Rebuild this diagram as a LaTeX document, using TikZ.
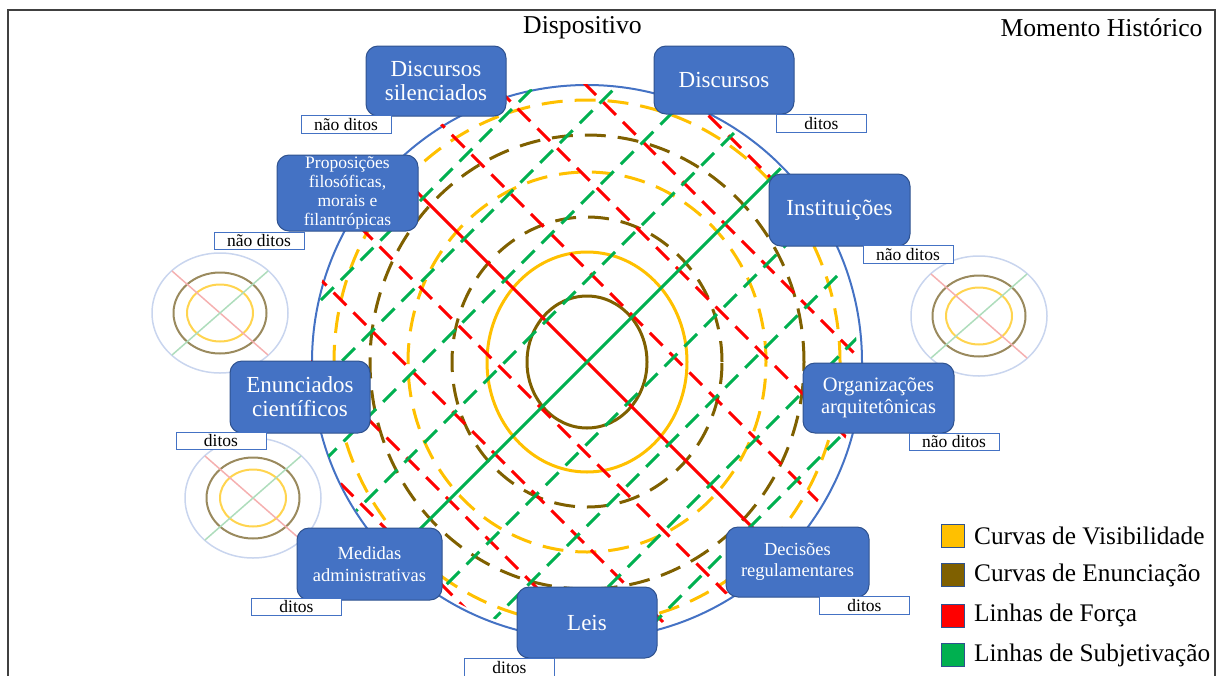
\documentclass[tikz,border=0pt]{standalone}
\usepackage{fontspec}
\setmainfont{Liberation Serif}
\definecolor{boxblue}{HTML}{4472C4}
\definecolor{boxedge}{HTML}{2F528F}
\definecolor{visy}{HTML}{FFC000}
\definecolor{enunb}{HTML}{7F6000}
\definecolor{forcer}{HTML}{FF0000}
\definecolor{subjg}{HTML}{00B050}
\definecolor{framec}{HTML}{404040}
\definecolor{icoblue}{HTML}{C9D5EE}
\definecolor{icobrown}{HTML}{9A8A5E}
\definecolor{icoyellow}{HTML}{FFD44F}
\definecolor{icored}{HTML}{F5B0B0}
\definecolor{icogreen}{HTML}{AEDDBC}
\tikzset{
  bluebox/.style={rectangle, rounded corners=12pt, fill=boxblue, draw=boxedge, line width=1pt, text=white, align=center, inner sep=0pt},
  bigtxt/.style={font=\fontsize{23}{24}\selectfont},
  tagbox/.style={rectangle, draw=boxblue, line width=1pt, fill=white, inner sep=0pt, text=black, font=\fontsize{17.5}{18}\selectfont, minimum height=17.5pt, minimum width=90pt},
  ringdash/.style={line width=3pt, dash pattern=on 21pt off 12pt},
  linedash/.style={line width=3pt, dash pattern=on 18pt off 10pt},
  legsq/.style={rectangle, draw=boxedge, line width=1pt, minimum size=23pt, inner sep=0pt},
  legtxt/.style={anchor=west, inner sep=0pt, font=\fontsize{25.3}{27}\selectfont},
  toptxt/.style={inner sep=0pt, font=\fontsize{25.7}{27}\selectfont},
  miniicon/.pic={
    \draw[icoblue, line width=1.5pt] (0,0) ellipse [x radius=68pt, y radius=60pt];
    \draw[icobrown, line width=2pt] (0,0) ellipse [x radius=46.5pt, y radius=40.5pt];
    \draw[icoyellow, line width=2pt] (0,0) ellipse [x radius=33pt, y radius=28.5pt];
    \draw[icored, line width=1.5pt] (-48,-42) -- (48,42);
    \draw[icogreen, line width=1.5pt] (-48,42) -- (48,-42);
  }
}
\begin{document}
\begin{tikzpicture}[x=1pt, y=-1pt]
\useasboundingbox (0,0) rectangle (1224,675);
% frame
\draw[framec, line width=1.5pt] (8,676) -- (8,10) -- (1215,10) -- (1215,676);
% titles
\node[toptxt] (tdisp) at (582.5,28) {Dispositivo};
\node[toptxt] (tmom) at (1101.5,28) {Momento Histórico};
% small icons
\pic at (220,313) {miniicon};
\pic at (253,498) {miniicon};
\pic at (979,316) {miniicon};
% big circle
\draw[boxblue, line width=2pt] (587,362) ellipse [x radius=275pt, y radius=277pt];
% rings
\draw[visy, ringdash] (587,362) ellipse [x radius=253pt, y radius=262pt];
\draw[enunb, ringdash] (587,362) ellipse [x radius=217pt, y radius=227pt];
\draw[visy, ringdash] (587,362) ellipse [x radius=179pt, y radius=190pt];
\draw[enunb, ringdash] (587,362) ellipse [x radius=135pt, y radius=145pt];
\draw[visy, line width=3pt] (587,362) ellipse [x radius=100pt, y radius=110pt];
\draw[enunb, line width=3pt] (587,362) ellipse [x radius=60pt, y radius=66pt];
% lines
\begin{scope}
\clip (584,359) ellipse [x radius=273pt, y radius=275pt];
\foreach \k in {-4,-3,-2,-1,1,2,3,4} {
  \draw[forcer, linedash] ({287+46*\k},{62-46*\k}) -- ({887+46*\k},{662-46*\k});
}
\draw[forcer, line width=3pt] (287,62) -- (887,662);
\foreach \k in {-4,-3,-2,-1,1,2,3,4} {
  \draw[subjg, linedash] ({287+41*\k},{662+41*\k}) -- ({887+41*\k},{62+41*\k});
}
\draw[subjg, line width=3pt] (287,662) -- (887,62);
\end{scope}
% boxes
\node[bluebox, bigtxt, minimum width=140pt, minimum height=70pt] (dsil) at (436,81) {Discursos\\silenciados};
\node[bluebox, bigtxt, minimum width=140pt, minimum height=68pt] (disc) at (724,80) {Discursos};
\node[bluebox, font=\fontsize{17.5}{19}\selectfont, minimum width=141pt, minimum height=76pt] (prop) at (347.5,193) {Proposições\\filosóficas,\\morais e\\filantrópicas};
\node[bluebox, bigtxt, minimum width=141pt, minimum height=72pt] (inst) at (839.5,210) {Instituições};
\node[bluebox, bigtxt, minimum width=140pt, minimum height=72pt] (enun) at (300,397) {Enunciados\\científicos};
\node[bluebox, font=\fontsize{20.5}{22}\selectfont, minimum width=151pt, minimum height=70pt] (org) at (878.5,398) {Organizações\\arquitetônicas};
\node[bluebox, font=\fontsize{18.5}{22}\selectfont, minimum width=145pt, minimum height=72pt] (med) at (369.5,564) {Medidas\\administrativas};
\node[bluebox, bigtxt, minimum width=140pt, minimum height=71pt] (leis) at (587,622.5) {Leis};
\node[bluebox, font=\fontsize{18.5}{21}\selectfont, minimum width=143pt, minimum height=70pt] (dec) at (797.5,562) {Decisões\\regulamentares};
% tags
\node[tagbox] (t1) at (346,124.5) {não ditos};
\node[tagbox] (t2) at (821.5,123.5) {ditos};
\node[tagbox] (t3) at (259,241) {não ditos};
\node[tagbox] (t4) at (908,254.5) {não ditos};
\node[tagbox] (t5) at (221,441) {ditos};
\node[tagbox] (t6) at (954,442) {não ditos};
\node[tagbox] (t7) at (296.5,607) {ditos};
\node[tagbox] (t8) at (509.5,667.5) {ditos};
\node[tagbox] (t9) at (864.5,605.5) {ditos};
% legend
\node[legsq, fill=visy] (lg1) at (953,535.5) {};
\node[legtxt] (lt1) at (974,535.5) {Curvas de Visibilidade};
\node[legsq, fill=enunb] (lg2) at (953,575) {};
\node[legtxt] (lt2) at (974,575) {Curvas de Enunciação};
\node[legsq, fill=forcer] (lg3) at (953,615.5) {};
\node[legtxt] (lt3) at (974,615.5) {Linhas de Força};
\node[legsq, fill=subjg] (lg4) at (953,655) {};
\node[legtxt] (lt4) at (974,655) {Linhas de Subjetivação};
\end{tikzpicture}
\end{document}
